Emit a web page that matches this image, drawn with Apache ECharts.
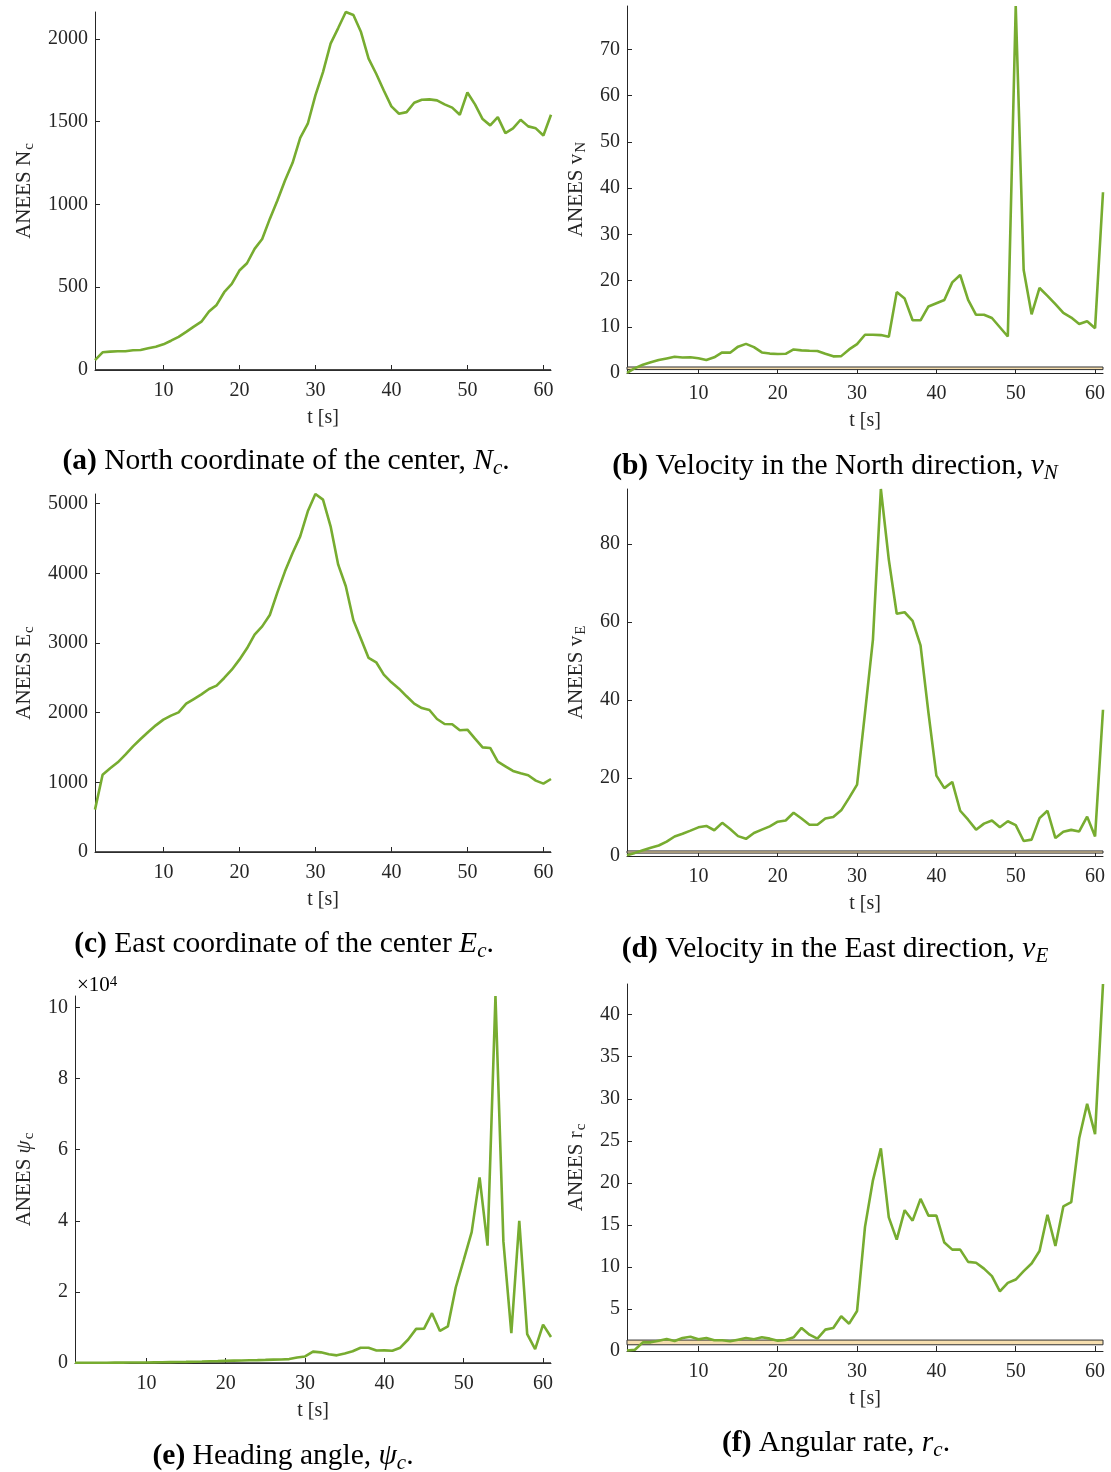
<!DOCTYPE html>
<html>
<head>
<meta charset="utf-8">
<script src="https://cdn.jsdelivr.net/npm/echarts@6/dist/echarts.min.js"></script>
<style>
html,body{margin:0;padding:0;background:#fff;}
#c{width:1111px;height:1472px;}
</style>
</head>
<body>
<div id="c"></div>
<script>
// ---- data ----
const tArr = [1,2,3,4,5,6,7,8,9,10,11,12,13,14,15,16,17,18,19,20,21,22,23,24,25,26,27,28,29,30,31,32,33,34,35,36,37,38,39,40,41,42,43,44,45,46,47,48,49,50,51,52,53,54,55,56,57,58,59,60,61];
const xTicks = [10,20,30,40,50,60];

const aneesNc = [60,107,111,113,113,119,121,131,141,155,177,200,230,262,292,353,393,470,520,601,645,732,792,913,1024,1145,1252,1403,1488,1659,1800,1972,2066,2163,2145,2042,1881,1790,1689,1593,1548,1558,1615,1633,1635,1629,1605,1585,1542,1677,1605,1516,1478,1528,1431,1460,1512,1472,1460,1417,1542];
const aneesVN = [0.05,1.06,1.78,2.3,2.8,3.15,3.5,3.36,3.4,3.2,2.8,3.4,4.45,4.4,5.7,6.3,5.6,4.45,4.2,4.1,4.15,5.1,4.9,4.8,4.75,4.15,3.6,3.65,5.1,6.25,8.27,8.27,8.2,7.84,17.5,16.1,11.4,11.4,14.4,15.1,15.8,19.6,21.2,15.8,12.6,12.6,11.9,9.9,7.9,79.4,22.3,12.7,18.4,16.7,14.9,13.0,12.0,10.6,11.2,9.7,39.1];
const aneesEc = [608,1110,1201,1287,1397,1517,1622,1723,1818,1900,1957,2005,2129,2196,2263,2340,2388,2498,2617,2761,2924,3120,3239,3402,3727,4029,4292,4531,4890,5139,5058,4675,4125,3814,3326,3058,2785,2723,2546,2436,2345,2235,2129,2067,2038,1909,1837,1833,1747,1756,1627,1502,1493,1297,1230,1163,1129,1101,1024,981,1048];
const aneesVE = [0.2,0.8,1.45,2.1,2.7,3.7,5.0,5.7,6.5,7.35,7.7,6.6,8.5,6.9,5.1,4.4,5.9,6.75,7.6,8.8,9.1,11.1,9.6,8.0,8.0,9.6,10.0,11.7,14.9,18.3,36.7,55.5,94.1,76.0,62.1,62.5,60.3,54.0,36.7,20.6,17.4,19.0,11.6,9.3,6.75,8.3,9.1,7.35,8.9,7.9,3.85,4.2,9.7,11.6,4.6,6.2,6.7,6.3,10.1,5.0,37.5];
const aneesPsi = [50,60,70,80,90,100,110,120,130,150,180,210,250,280,320,370,420,480,530,600,660,720,780,820,880,950,1000,1100,1550,1850,3200,3000,2450,2150,2700,3300,4300,4300,3500,3550,3450,4300,6600,9600,9650,14000,9000,10300,21300,29000,36800,52200,33000,103200,34200,8400,40000,8100,3900,10800,7300];
const aneesRc = [0.05,0.15,1.03,1.03,1.23,1.43,1.19,1.55,1.7,1.39,1.55,1.27,1.27,1.15,1.35,1.55,1.39,1.63,1.47,1.23,1.31,1.63,2.74,1.94,1.47,2.54,2.74,4.13,3.25,4.76,14.76,20.3,24.1,15.9,13.25,16.75,15.5,18.1,16.1,16.1,12.9,12.06,12.06,10.6,10.5,9.8,8.9,7.1,8.1,8.5,9.5,10.4,11.9,16.2,12.5,17.2,17.7,25.3,29.4,25.8,43.65];

const bandLo = [0.74];
const bandHi = [1.30];

const yTicksA = [0,500,1000,1500,2000];
const yTicksB = [0,10,20,30,40,50,60,70];
const yTicksC = [0,1000,2000,3000,4000,5000];
const yTicksD = [0,20,40,60,80];
const yTicksE = [0,20000,40000,60000,80000,100000];
const yTicksF = [0,5,10,15,20,25,30,35,40];

// ---- style ----
const FONT = "'Liberation Serif','Times New Roman',serif";
const GREEN = '#77AC30';
const AX = '#262626';

const panels = [
  {vals: aneesNc, ticks: yTicksA, grid:{left:95, top:12, width:456, height:358}, nameGap:58, name:'{m|ANEES N}{s|c}'},
  {vals: aneesVN, ticks: yTicksB, grid:{left:627, top:6, width:476, height:367}, nameGap:38, name:'{m|ANEES v}{s|N}'},
  {vals: aneesEc, ticks: yTicksC, grid:{left:95, top:494, width:456, height:358}, nameGap:58, name:'{m|ANEES E}{s|c}'},
  {vals: aneesVE, ticks: yTicksD, grid:{left:627, top:489, width:476, height:367}, nameGap:38, name:'{m|ANEES v}{s|E}'},
  {vals: aneesPsi, ticks: yTicksE, grid:{left:75, top:996, width:476, height:367}, nameGap:38, name:'{m|ANEES }{mi|ψ}{s|c}', fmt: v => String(v/10000)},
  {vals: aneesRc, ticks: yTicksF, grid:{left:627, top:984, width:476, height:367}, nameGap:38, name:'{m|ANEES r}{s|c}'}
];

const nameRich = {
  m:{fontFamily:FONT, fontSize:21, color:AX, verticalAlign:'middle'},
  mi:{fontFamily:FONT, fontSize:21, fontStyle:'italic', color:AX, verticalAlign:'middle'},
  s:{fontFamily:FONT, fontSize:15, color:AX, padding:[10,0,0,1], verticalAlign:'middle'}
};

const grids = [], xAxes = [], yAxes = [], series = [];
panels.forEach((p, i) => {
  grids.push(Object.assign({containLabel:false}, p.grid));
  xAxes.push({
    type:'value', gridIndex:i, min:tArr[0], max:tArr[tArr.length-1],
    axisLine:{show:true, onZero:false, lineStyle:{color:AX, width:1}},
    axisTick:{show:true, inside:true, length:5, customValues:xTicks, lineStyle:{color:AX}},
    axisLabel:{show:true, customValues:xTicks, fontFamily:FONT, fontSize:20, color:AX, margin:11},
    splitLine:{show:false},
    name:'t [s]', nameLocation:'middle', nameGap:38,
    nameTextStyle:{fontFamily:FONT, fontSize:20, color:AX, verticalAlign:'top'}
  });
  yAxes.push({
    type:'value', gridIndex:i, min:0, max:Math.max.apply(null, p.vals),
    axisLine:{show:true, lineStyle:{color:AX, width:1}},
    axisTick:{show:true, inside:true, length:5, customValues:p.ticks, lineStyle:{color:AX}},
    axisLabel:{show:true, customValues:p.ticks, fontFamily:FONT, fontSize:20, color:AX, margin:7,
      formatter: p.fmt ? p.fmt : (v => String(v))},
    splitLine:{show:false},
    name:p.name, nameLocation:'middle', nameRotate:90, nameGap:p.nameGap,
    nameTextStyle:{rich:nameRich}
  });
  series.push({
    type:'line', xAxisIndex:i, yAxisIndex:i,
    data: tArr.map((t, k) => [t, p.vals[k]]),
    showSymbol:false, symbol:'none',
    lineStyle:{color:GREEN, width:2.6},
    itemStyle:{color:GREEN},
    z:3, clip:false,
    markArea:{
      silent:true,
      itemStyle:{color:'#f6deae', borderColor:'#333', borderWidth:1},
      data:[[{yAxis:bandLo[0]}, {yAxis:bandHi[0]}]]
    }
  });
});

const CF = 29.5;
const capRich = {
  b:{fontFamily:FONT, fontSize:CF, fontWeight:'bold', color:'#000', verticalAlign:'middle'},
  n:{fontFamily:FONT, fontSize:CF, color:'#000', verticalAlign:'middle'},
  i:{fontFamily:FONT, fontSize:CF, fontStyle:'italic', color:'#000', verticalAlign:'middle'},
  s:{fontFamily:FONT, fontSize:21, fontStyle:'italic', color:'#000', padding:[14,0,0,0], verticalAlign:'middle'}
};
function cap(text, x, y){
  return {type:'text', x:x, y:y, silent:true,
    style:{text:text, align:'center', verticalAlign:'middle', textAlign:'center', textVerticalAlign:'middle', rich:capRich, fontFamily:FONT, fontSize:CF}};
}

const graphics = [
  cap('{b|(a)}{n| North coordinate of the center, }{i|N}{s|c}{n|.}', 286, 461),
  cap('{b|(b)}{n| Velocity in the North direction, }{i|v}{s|N}', 835, 466),
  cap('{b|(c)}{n| East coordinate of the center }{i|E}{s|c}{n|.}', 284, 944),
  cap('{b|(d)}{n| Velocity in the East direction, }{i|v}{s|E}', 835, 949),
  cap('{b|(e)}{n| Heading angle, }{i|ψ}{s|c}{n|.}', 283, 1456),
  cap('{b|(f)}{n| Angular rate, }{i|r}{s|c}{n|.}', 836, 1443),
  {type:'text', x:77, y:975, silent:true,
    style:{text:'{a|×10}{p|4}', rich:{
      a:{fontFamily:FONT, fontSize:21, color:AX, verticalAlign:'bottom'},
      p:{fontFamily:FONT, fontSize:15, color:AX, verticalAlign:'top'}
    }}}
];

const chart = echarts.init(document.getElementById('c'), null, {renderer:'canvas'});
chart.setOption({
  animation:false,
  backgroundColor:'#fff',
  grid:grids, xAxis:xAxes, yAxis:yAxes, series:series,
  graphic:graphics
});
</script>
</body>
</html>
